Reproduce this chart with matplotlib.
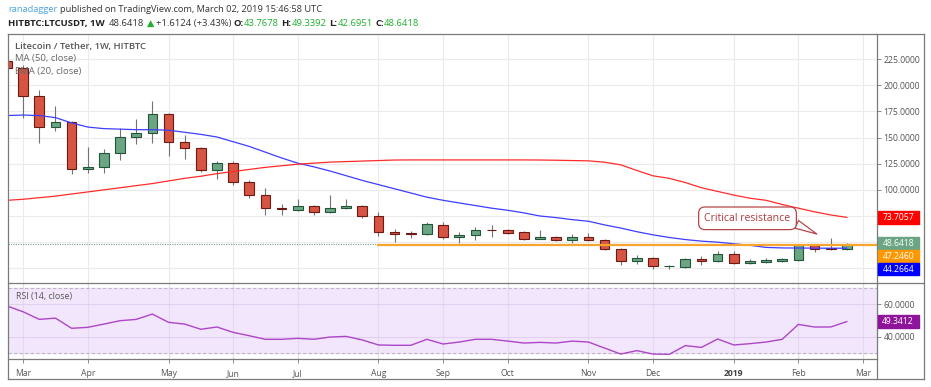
import matplotlib.pyplot as plt
import matplotlib.patches as mpatches
import matplotlib.lines as mlines
from matplotlib.transforms import IdentityTransform
import numpy as np
import pandas as pd

plt.rcParams['font.family'] = ['Open Sans', 'DejaVu Sans']

# weekly LTC/USDT candles, first bar = week of 2018-02-26
first_week = '2018-02-26'
opens = [223, 216, 190, 160, 164.5, 119.7, 121.5, 135.5, 150.3, 154.1,
         172.5, 145.5, 139.8, 119.1, 125.5, 107.3, 95.2, 82.5, 80.9, 84.1,
         78.4, 82.5, 84.7, 75.2, 59.9, 58.7, 57.4, 66.6, 54.9, 56.4,
         61.8, 61.8, 59.3, 53.2, 54.5, 52.3, 55.2, 51.6, 43.4, 31.6,
         34.8, 26.8, 26.2, 33.9, 31.6, 38.9, 30.0, 30.6, 31.6, 33.0,
         47.3, 44.3, 43.7678]
highs = [228, 219, 195.4, 180, 166, 140.7, 138.8, 158.9, 167.7, 185.2,
         173.5, 152.5, 141, 127.7, 127.7, 109.5, 102.2, 86.6, 91.4, 85.5,
         95.2, 91.4, 85.7, 78.7, 62.5, 60.2, 68.8, 69.2, 59.3, 64.4,
         66.6, 62.4, 60.2, 61.8, 55.5, 57.7, 58.7, 53.2, 44.5, 37.3,
         36.3, 28.4, 35.0, 37.0, 41.1, 41.1, 33.9, 34.8, 34.8, 48.3,
         48.3, 54.3, 49.3392]
lows = [212, 168.7, 145, 156.5, 115.1, 116.5, 116.5, 128.6, 143.9, 144.6,
        132.4, 129.6, 116.9, 110.5, 104.8, 92.1, 75.5, 75.5, 80.0, 75.5,
        78.0, 81.6, 73.0, 56.1, 49.7, 53.9, 57.0, 53.2, 49.1, 51.6,
        55.4, 57.5, 51.6, 53.0, 51.5, 49.1, 50.7, 42.1, 28.4, 29.4,
        24.3, 24.3, 25.5, 28.4, 30.6, 29.4, 29.4, 30.0, 30.9, 32.3,
        40.9, 42.9, 42.6951]
closes = [216, 189.7, 159.8, 164.5, 119.7, 121.5, 135.5, 150.3, 154.1, 172.5,
          145.5, 139.8, 119.1, 125.5, 107.3, 95.2, 82.5, 81.6, 84.1, 78.4,
          82.5, 85.0, 75.2, 59.6, 58.0, 57.4, 67.6, 54.5, 56.8, 61.8,
          61.3, 58.7, 53.0, 54.5, 52.3, 55.2, 51.6, 43.4, 31.6, 34.8,
          26.8, 27.1, 33.9, 31.6, 38.9, 30.0, 31.6, 32.5, 33.9, 47.3,
          43.5, 43.5, 48.6418]

ema20 = [171, 171.5, 171, 169, 164, 160, 158.5, 158, 157.5, 157.5,
         157, 155, 153, 150.5, 146, 141.5, 136, 130.5, 125.5, 122,
         118, 113.5, 109, 105, 101, 97, 93, 90, 87.5, 85,
         82.5, 80.5, 78, 75, 73.5, 71.5, 70, 66.5, 63.5, 60,
         57, 54.5, 52.5, 51, 50, 48.5, 47, 45, 44.5, 44.4,
         44.3, 44.2, 44.2664]
ma50 = [90, 91, 92.5, 94, 96, 98, 100, 102, 104, 106,
        108.5, 111, 113, 115.5, 117.5, 119.5, 121.5, 123, 124.5, 125.5,
        126.5, 127, 127.5, 128, 128.5, 128.6, 128.6, 128.6, 128.6, 128.6,
        128.6, 128.6, 128.6, 128.5, 128.3, 128.0, 127.7, 126.4, 123.9, 118.5,
        113.4, 111, 107, 102, 98.5, 95, 92, 90, 86, 82.5,
        79, 76, 73.7057]
rsi14 = [59, 55.4, 50.7, 51.5, 45.2, 45.8, 47.8, 49.9, 50.7, 54,
         48.9, 47.8, 44.6, 46, 42.7, 40.6, 38.4, 38.4, 39, 38.4,
         39.8, 40.2, 38, 34.9, 34.7, 34.7, 38.4, 35.5, 36.7, 38.4,
         38.4, 37.3, 36.1, 36.5, 36.1, 37.3, 36.7, 33, 29.3, 31.4,
         29.3, 29.1, 34.5, 33.4, 38.6, 34.9, 35.7, 36.7, 38.4, 47.6,
         46, 46, 49.3412]

resistance = 47.2460
resistance_from = 23
price_ticks = [25, 50, 75, 100, 125, 150, 175, 200, 225]

W, H = 931, 387
fig = plt.figure(figsize=(W / 100, H / 100), dpi=100)

X_LEFT, X_AXIS, X_RIGHT = 8, 876.7, 924
Y_TOP, Y_SEP, Y_RSI_BOT, Y_BOT = 33.5, 283.3, 359.3, 379


def fy(y):
    return 1 - y / H


ax = fig.add_axes([X_LEFT / W, fy(Y_SEP), (X_AXIS - X_LEFT) / W, (Y_SEP - Y_TOP) / H])
ax_r = fig.add_axes([X_LEFT / W, fy(Y_RSI_BOT), (X_AXIS - X_LEFT) / W, (Y_RSI_BOT - Y_SEP) / H])

n = len(closes)
idx = np.arange(n)
weeks = pd.date_range(first_week, periods=n + 1, freq='7D')
tick_pos = [i for i in range(1, n + 1) if weeks[i].month != weeks[i - 1].month]
tick_lab = [str(weeks[i].year) if weeks[i].month == 1 else weeks[i].strftime('%b') for i in tick_pos]

xlim = (0.062, 53.85)
grid_c = '#ebebeb'
txt_c = '#555555'

# ---- price panel
for a in (ax, ax_r):
    a.set_xlim(*xlim)
    for s in a.spines.values():
        s.set_visible(False)
    for p in tick_pos:
        a.axvline(p, color=grid_c if a is ax else '#e4d8ef', lw=0.8, zorder=0)

ax.set_ylim(10.7, 249.4)
for p in price_ticks:
    ax.axhline(p, color=grid_c, lw=0.8, zorder=0)
ax.set_xticks([])
ax.yaxis.tick_right()
ax.set_yticks(price_ticks)
ax.set_yticklabels(['%.4f' % p if p >= 100 else '' for p in price_ticks])
ax.tick_params(axis='y', length=3, width=0.6, color='#777777', pad=2,
               labelsize=6.2, labelcolor=txt_c)

up_c, up_e = '#6ba583', '#225437'
dn_c, dn_e = '#d75442', '#6b1a13'
for i in idx:
    o, h, l, c = opens[i], highs[i], lows[i], closes[i]
    ax.vlines(i, l, h, color='#737375', lw=0.8, zorder=2)
    up = c >= o
    ax.bar(i, max(abs(c - o), 0.3), bottom=min(o, c), width=0.6,
           color=up_c if up else dn_c, edgecolor=up_e if up else dn_e,
           lw=0.8, zorder=3)

ax.plot(idx, ema20, color='#3d3dff', lw=0.9, zorder=4)
ax.plot(idx, ma50, color='#ff2b2b', lw=0.9, zorder=4)
ax.axhline(closes[-1], color='#6ba583', lw=0.8, ls=(0, (1, 1.2)), zorder=4)
ax.hlines(resistance, resistance_from - 0.1, xlim[1], color='#f8a530', lw=1.6, zorder=4)

ax.annotate('Critical resistance', xy=(50.14, 57.8), xytext=(45.85, 72.8),
            ha='center', va='center', fontsize=7.6, color='#b23a3f', zorder=6,
            bbox=dict(boxstyle='round,pad=0.55,rounding_size=0.6', fc='white',
                      ec='#b5474b', lw=0.9),
            arrowprops=dict(arrowstyle='wedge,tail_width=0.8,shrink_factor=0.5',
                            fc='white', ec='#b5474b', lw=0.9,
                            shrinkA=0, shrinkB=0, relpos=(0.98, 0.3)))

ax.text(15, H - 46, 'Litecoin / Tether, 1W, HITBTC', transform=IdentityTransform(),
        fontsize=6.8, color=txt_c, fontweight='semibold', va='center', zorder=7)
ax.text(15, H - 59, 'MA (50, close)', transform=IdentityTransform(),
        fontsize=6.8, color='#666666', va='center', zorder=7)
ax.text(15, H - 71.5, 'EMA (20, close)', transform=IdentityTransform(),
        fontsize=6.8, color='#666666', va='center', zorder=7)

# ---- RSI panel
ax_r.set_ylim(26.05, 73)
ax_r.axhspan(30, 70, color='#f2e6fd', zorder=0)
for p in tick_pos:
    ax_r.axvline(p, color='#e4d8ef', lw=0.8, zorder=1)
for lv in (40, 60):
    ax_r.axhline(lv, color='#e0d2ee', lw=0.8, zorder=1)
for lv in (30, 70):
    ax_r.axhline(lv, color='#bdb5c4', lw=0.8, ls=(0, (3, 2)), zorder=2)
ax_r.plot(idx, rsi14, color='#ad45c8', lw=1.0, zorder=3)
ax_r.yaxis.tick_right()
ax_r.set_yticks([40, 60])
ax_r.set_yticklabels(['40.0000', '60.0000'])
ax_r.tick_params(axis='y', length=3, width=0.6, color='#777777', pad=2,
                 labelsize=6.2, labelcolor=txt_c)
ax_r.set_xticks(tick_pos)
ax_r.set_xticklabels(tick_lab)
ax_r.tick_params(axis='x', length=3, width=0.6, color='#777777', pad=4,
                 labelsize=6.2, labelcolor=txt_c)
for t in ax_r.get_xticklabels():
    if t.get_text().isdigit():
        t.set_fontweight('bold')
        t.set_color('#444444')
ax_r.text(16, H - 296.7, 'RSI (14, close)', transform=IdentityTransform(),
          fontsize=6.4, color=txt_c, va='center', zorder=7)

# ---- frame lines
line_c = '#7a7a7a'
for (x0, y0, x1, y1) in [(X_LEFT, Y_TOP, X_RIGHT, Y_TOP), (X_LEFT, Y_BOT, X_RIGHT, Y_BOT),
                         (X_LEFT, Y_TOP, X_LEFT, Y_BOT), (X_RIGHT, Y_TOP, X_RIGHT, Y_BOT),
                         (X_AXIS, Y_TOP, X_AXIS, Y_BOT), (X_LEFT, Y_SEP, X_RIGHT, Y_SEP),
                         (X_LEFT, Y_RSI_BOT, X_AXIS, Y_RSI_BOT)]:
    fig.add_artist(mlines.Line2D([x0 / W, x1 / W], [fy(y0), fy(y1)],
                                 color=line_c, lw=0.9, transform=fig.transFigure, zorder=20))


# ---- price tags on the right axis
def tag(yc, color, text):
    fig.add_artist(mpatches.Rectangle((877.5, yc - 6.2), 41.5, 12.4, transform=IdentityTransform(),
                                      color=color, zorder=30))
    fig.text(898.2, yc, text, transform=IdentityTransform(), color='white', fontsize=6.2,
             ha='center', va='center', zorder=31)


def py(a, v):
    return a.transData.transform((0, v))[1]


tag(py(ax, ma50[-1]), '#ff0000', '%.4f' % ma50[-1])
y_last = py(ax, closes[-1])
tag(y_last, '#6ba583', '%.4f' % closes[-1])
tag(y_last - 12.8, '#ff9800', '%.4f' % resistance)
tag(y_last - 25.6, '#0000ff', '%.4f' % ema20[-1])
tag(py(ax_r, rsi14[-1]), '#8e1599', '%.4f' % rsi14[-1])

# ---- header
renderer = fig.canvas.get_renderer()


def run(pieces, x, y, size):
    for txt, color, weight, gap in pieces:
        t = fig.text(x, H - y, txt, transform=IdentityTransform(), color=color,
                     fontweight=weight, fontsize=size, va='center', ha='left')
        x = t.get_window_extent(renderer).x1 + gap


green = '#22b030'
run([('ranadagger', '#4aa3df', 'normal', 2.4),
     ('published on TradingView.com, March 02, 2019 15:46:58 UTC', '#333333', 'normal', 0)],
    8, 10, 6.7)
run([('HITBTC:LTCUSDT, 1W', '#222222', 'bold', 4.5),
     ('48.6418', '#333333', 'normal', 2),
     ('\u25b2', green, 'normal', 2),
     ('+1.6124 (+3.43%)', '#333333', 'normal', 2.3),
     ('O:', '#222222', 'bold', 0.5), ('43.7678', green, 'normal', 2.3),
     ('H:', '#222222', 'bold', 0.5), ('49.3392', green, 'normal', 2.3),
     ('L:', '#222222', 'bold', 0.5), ('42.6951', green, 'normal', 2.3),
     ('C:', '#222222', 'bold', 0.5), ('48.6418', green, 'normal', 0)],
    8, 23.5, 6.8)

fig.savefig('out.png', dpi=100)
